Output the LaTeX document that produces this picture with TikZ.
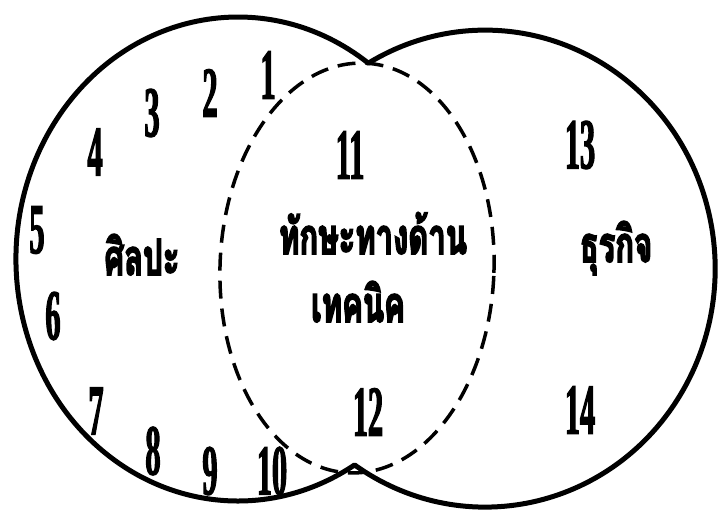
\documentclass[tikz,border=0pt]{standalone}
\usepackage{fontspec}
\newfontfamily\thaifont[Script=Thai, FakeStretch=0.62, FakeBold=3]{Loma}
\newfontfamily\numfont[FakeStretch=0.42, BoldFeatures={FakeBold=1.5}]{Liberation Serif}
\usetikzlibrary{positioning}
\tikzset{
    % Line styles
    set outline/.style={
        draw=black,
        line width=5pt,
        line join=round
    },
    core outline/.style={
        draw=black,
        line width=3.5pt,
        dash pattern=on 18pt off 10pt
    },
    % Text styles
    num label/.style={
        inner sep=0pt,
        font=\numfont\bfseries\fontsize{72}{72}\selectfont
    },
    set label/.style={
        inner sep=0pt,
        anchor=base,
        font=\thaifont\bfseries\fontsize{50}{50}\selectfont
    }
}
\begin{document}
\begin{tikzpicture}[x=1pt, y=1pt]
        \useasboundingbox (0,0) rectangle (719,512);

        % Outline of the two sets
        \coordinate (top cross) at (368.1,449.0);
        \draw[set outline] (top cross)
            arc[start angle=54.1, end angle=301.7, x radius=222, y radius=242]
            arc[start angle=-124.6, end angle=120.5, x radius=230, y radius=238.5]
            -- cycle;

        % Dashed core
        \draw[core outline, rotate around={-2:(357,244)}] (357,244) ellipse[x radius=137, y radius=205];

        % Numbers round the left set
        \node[num label] (n1) at (268,437) {1};
        \node[num label] (n2) at (210,419) {2};
        \node[num label] (n3) at (152,399) {3};
        \node[num label] (n4) at (95,360) {4};
        \node[num label] (n5) at (37,282) {5};
        \node[num label] (n6) at (53,196) {6};
        \node[num label] (n7) at (96,101) {7};
        \node[num label] (n8) at (153,61) {8};
        \node[num label] (n9) at (210,41) {9};
        \node[num label] (n10) at (272,41) {10};

        % Numbers in the core and the right set
        \node[num label] (n11) at (350,357) {11};
        \node[num label] (n12) at (368,100) {12};
        \node[num label] (n13) at (580,367) {13};
        \node[num label] (n14) at (580,102) {14};

        % Set names
        \node[set label] (arts) at (142,237) {ศิลปะ};
        \node[set label] (tech top) at (373,258) {ทักษะทางด้าน};
        \node[set label] (tech bottom) at (358,190) {เทคนิค};
        \node[set label] (business) at (616,250) {ธุรกิจ};
    \end{tikzpicture}
\end{document}
